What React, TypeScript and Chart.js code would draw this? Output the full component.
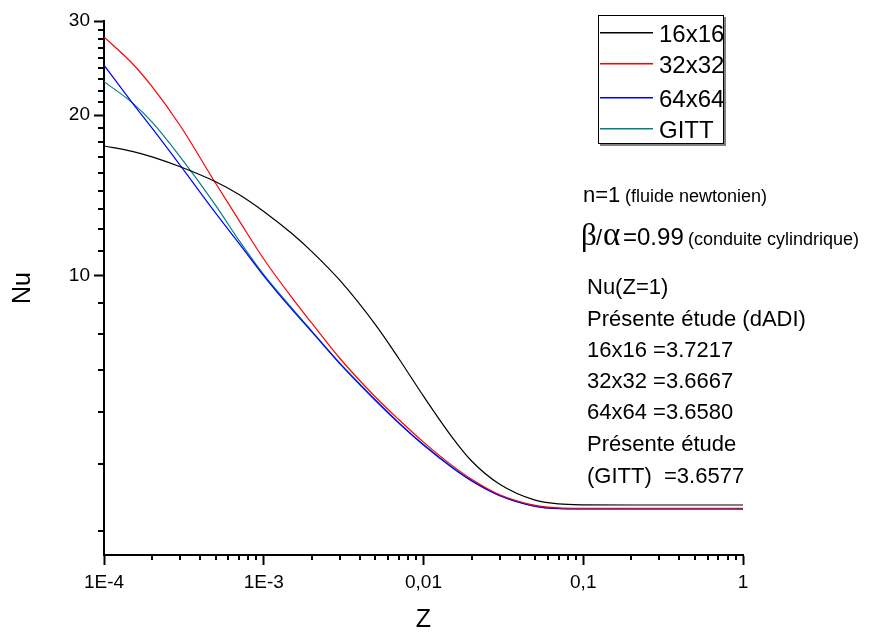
import React, { useEffect, useRef } from 'react';
import { Chart, registerables } from 'chart.js';

Chart.register(...registerables);

// ---- data ----
const zValues = [1e-4, 1.5e-4, 2e-4, 3e-4, 5e-4, 7e-4, 1e-3, 1.5e-3, 2e-3, 3e-3, 5e-3, 7e-3, 1e-2, 1.5e-2, 2e-2, 3e-2, 5e-2, 7e-2, 0.1, 0.2, 0.5, 1];
const nu16 = [17.5, 17.1, 16.7, 16.0, 15.0, 14.2, 13.2, 12.0, 11.1, 9.8, 8.1, 7.0, 5.95, 5.0, 4.5, 4.07, 3.8, 3.74, 3.725, 3.722, 3.722, 3.7217];
const nu32 = [28.0, 25.0, 22.6, 19.1, 14.9, 12.7, 10.75, 9.1, 8.15, 7.0, 5.93, 5.38, 4.88, 4.42, 4.16, 3.89, 3.715, 3.675, 3.668, 3.667, 3.667, 3.6667];
const nu64 = [24.8, 21.1, 18.9, 16.1, 13.1, 11.5, 10.0, 8.65, 7.85, 6.84, 5.84, 5.3, 4.82, 4.38, 4.13, 3.875, 3.70, 3.664, 3.659, 3.658, 3.658, 3.658];
const nuGitt = [23.1, 21.1, 19.4, 16.7, 13.55, 11.65, 10.05, 8.7, 7.88, 6.86, 5.86, 5.31, 4.83, 4.39, 4.14, 3.88, 3.705, 3.667, 3.66, 3.658, 3.658, 3.6577];

const seriesLabels = ['16x16', '32x32', '64x64', 'GITT'];
const seriesColors = ['#000000', '#ff0000', '#0000ff', '#008080'];
const seriesValues = [nu16, nu32, nu64, nuGitt];

const xMajorTicks = [1e-4, 1e-3, 1e-2, 1e-1, 1];
const xTickLabels = ['1E-4', '1E-3', '0,01', '0,1', '1'];
const yMajorTicks = [10, 20, 30];
const yTickLabels = ['10', '20', '30'];
const xRange = [1e-4, 1];
const yRange = [3, 30];

const xTitle = 'Z';
const yTitle = 'Nu';

const SANS = '"Liberation Sans", Arial, sans-serif';
const SERIF = '"Liberation Serif", "Times New Roman", serif';

const annotations = [
  { text: 'n=1', x: 583, y: 202, size: 22, family: SANS },
  { text: '(fluide newtonien)', x: 625, y: 202, size: 18, family: SANS },
  { text: 'β', x: 581, y: 245, size: 31, family: SERIF },
  { text: '/', x: 596, y: 245, size: 22, family: SANS },
  { text: 'α', x: 603, y: 245, size: 33, family: SERIF },
  { text: '=0.99', x: 623, y: 245, size: 24, family: SANS },
  { text: '(conduite cylindrique)', x: 688, y: 245, size: 18, family: SANS },
  { text: 'Nu(Z=1)', x: 587, y: 294, size: 22, family: SANS },
  { text: 'Présente étude (dADI)', x: 587, y: 326, size: 22, family: SANS },
  { text: '16x16 =3.7217', x: 587, y: 357, size: 22, family: SANS },
  { text: '32x32 =3.6667', x: 587, y: 388, size: 22, family: SANS },
  { text: '64x64 =3.6580', x: 587, y: 419, size: 22, family: SANS },
  { text: 'Présente étude', x: 587, y: 451, size: 22, family: SANS },
  { text: '(GITT)  =3.6577', x: 587, y: 483, size: 22, family: SANS },
];

const decorPlugin = {
  id: 'decor',
  afterDraw(chart: any) {
    const ctx = chart.ctx as CanvasRenderingContext2D;
    const xs = chart.scales.x;
    const ys = chart.scales.y;
    const area = chart.chartArea;
    ctx.save();
    ctx.strokeStyle = '#000';
    ctx.lineWidth = 2;
    // minor x ticks
    for (let d = xRange[0]; d < xRange[1] * 0.999; d *= 10) {
      for (let k = 2; k <= 9; k++) {
        const px = Math.round(xs.getPixelForValue(k * d));
        ctx.beginPath();
        ctx.moveTo(px, area.bottom);
        ctx.lineTo(px, area.bottom + 5);
        ctx.stroke();
      }
    }
    // minor y ticks (8 per major interval)
    const bounds = [0, ...yMajorTicks];
    for (let i = 0; i < bounds.length - 1; i++) {
      const a = bounds[i], b = bounds[i + 1];
      for (let j = 1; j <= 8; j++) {
        const v = a + ((b - a) * j) / 9;
        if (v < yRange[0] || v > yRange[1]) continue;
        const py = Math.round(ys.getPixelForValue(v));
        ctx.beginPath();
        ctx.moveTo(area.left - 6, py);
        ctx.lineTo(area.left, py);
        ctx.stroke();
      }
    }

    // legend box
    const lx = 598, ly = 15, lw = 126, lh = 129;
    ctx.fillStyle = '#808080';
    ctx.fillRect(lx + 2, ly + 2, lw, lh);
    ctx.fillStyle = '#ffffff';
    ctx.fillRect(lx, ly, lw, lh);
    ctx.lineWidth = 1;
    ctx.strokeStyle = '#000';
    ctx.strokeRect(lx + 0.5, ly + 0.5, lw - 1, lh - 1);
    const rowLine = [32, 63, 97, 128];
    chart.data.datasets.forEach((ds: any, i: number) => {
      ctx.fillStyle = seriesColors[i];
      ctx.fillRect(600, rowLine[i], 53, 1.5);
      ctx.fillStyle = '#000';
      ctx.font = `24px ${SANS}`;
      ctx.textBaseline = 'alphabetic';
      ctx.textAlign = 'left';
      ctx.fillText(ds.label, 659, rowLine[i] + 10);
    });

    // annotation text
    ctx.fillStyle = '#000';
    ctx.textAlign = 'left';
    ctx.textBaseline = 'alphabetic';
    annotations.forEach((a) => {
      ctx.font = `${a.size}px ${a.family}`;
      ctx.fillText(a.text, a.x, a.y);
    });
    ctx.restore();
  },
};

export default function App() {
  const canvasRef = useRef<HTMLCanvasElement | null>(null);

  useEffect(() => {
    const canvas = canvasRef.current;
    if (!canvas) return;
    Chart.defaults.font.family = SANS;
    const chart = new Chart(canvas, {
      type: 'line',
      data: {
        datasets: seriesValues.map((vals, i) => ({
          label: seriesLabels[i],
          data: zValues.map((z, j) => ({ x: z, y: vals[j] })),
          borderColor: seriesColors[i],
          backgroundColor: seriesColors[i],
          borderWidth: 1.2,
          pointRadius: 0,
          cubicInterpolationMode: 'monotone' as const,
          fill: false,
        })),
      },
      options: {
        animation: false,
        responsive: false,
        maintainAspectRatio: false,
        devicePixelRatio: 1,
        events: [],
        layout: { padding: { top: 21, right: 126, left: 0, bottom: 0 } },
        plugins: {
          legend: { display: false },
          tooltip: { enabled: false },
        },
        scales: {
          x: {
            type: 'logarithmic',
            position: 'bottom',
            min: xRange[0],
            max: xRange[1],
            afterBuildTicks: (s: any) => {
              s.ticks = xMajorTicks.map((v) => ({ value: v, major: true }));
            },
            afterFit: (s: any) => {
              s.height = 80;
            },
            ticks: {
              autoSkip: false,
              maxRotation: 0,
              padding: 6,
              color: '#000',
              font: { size: 19, family: SANS },
              callback: (_v: any, i: number) => xTickLabels[i],
            },
            grid: {
              display: true,
              drawOnChartArea: false,
              drawTicks: true,
              tickLength: 10,
              tickWidth: 2,
              tickColor: '#000',
            },
            border: { display: true, color: '#000', width: 2 },
            title: {
              display: true,
              text: xTitle,
              color: '#000',
              font: { size: 25, family: SANS },
              padding: { top: 0, bottom: 0 },
            },
          },
          y: {
            type: 'logarithmic',
            position: 'left',
            min: yRange[0],
            max: yRange[1],
            afterBuildTicks: (s: any) => {
              s.ticks = yMajorTicks.map((v) => ({ value: v, major: true }));
            },
            afterFit: (s: any) => {
              s.width = 104;
            },
            ticks: {
              autoSkip: false,
              padding: 4,
              color: '#000',
              font: { size: 19, family: SANS },
              callback: (_v: any, i: number) => yTickLabels[i],
            },
            grid: {
              display: true,
              drawOnChartArea: false,
              drawTicks: true,
              tickLength: 10,
              tickWidth: 2,
              tickColor: '#000',
            },
            border: { display: true, color: '#000', width: 2 },
            title: {
              display: true,
              text: yTitle,
              color: '#000',
              font: { size: 25, family: SANS },
              padding: { top: 8, bottom: 0 },
            },
          },
        },
      },
      plugins: [decorPlugin],
    } as any);
    return () => chart.destroy();
  }, []);

  return (
    <div style={{ position: 'fixed', left: 0, top: 0, width: 869, height: 635, background: '#fff' }}>
      <canvas ref={canvasRef} width={869} height={635} style={{ display: 'block', width: 869, height: 635 }} />
    </div>
  );
}
